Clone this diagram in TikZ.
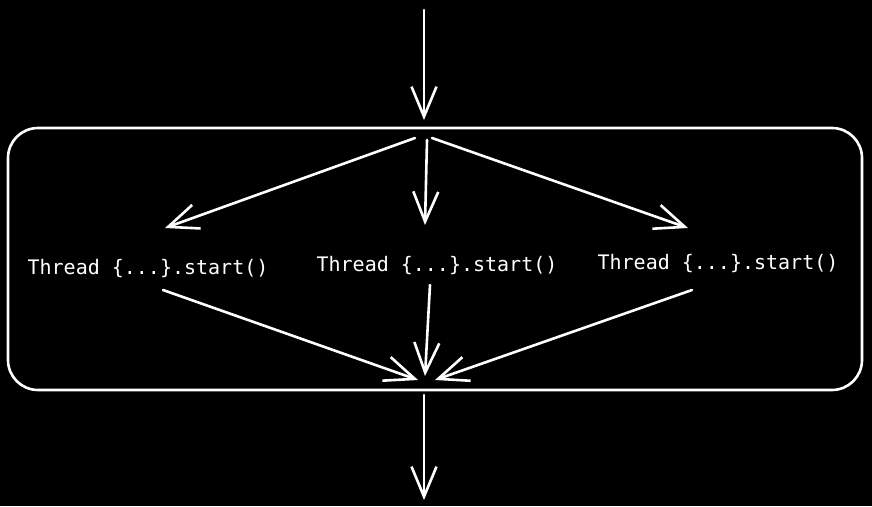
\documentclass[tikz,border=0pt]{standalone}
\usepackage{fontspec}
\setmainfont{DejaVu Sans Mono}
\usetikzlibrary{arrows.meta}
\begin{document}
\begin{tikzpicture}[x=1pt,y=-1pt,
  line width=2.6pt, draw=white, line cap=round, line join=round,
  flow/.style={draw=white, -{Straight Barb[length=30pt,width=25pt,line width=2.6pt]}},
  label/.style={text=white, font=\fontsize{20}{24}\selectfont, inner sep=0pt, anchor=base},
  frame/.style={draw=white, rounded corners=30pt, line width=2.6pt}]
  % canvas
  \fill[black] (0,0) rectangle (872,506);
  \useasboundingbox (0,0) rectangle (872,506);

  % enclosing block
  \draw[frame] (8,128) rectangle (862,390);

  % text nodes
  \node[label] (t1) at (148,274) {Thread \{...\}.start()};
  \node[label] (t2) at (437,271) {Thread \{...\}.start()};
  \node[label] (t3) at (718,269) {Thread \{...\}.start()};

  % arrow end points
  \coordinate (inTop) at (424,10);
  \coordinate (inEnd) at (424,120);
  \coordinate (forkL) at (415,138);
  \coordinate (forkC) at (427,140);
  \coordinate (forkR) at (432,138);
  \coordinate (joinL) at (418,380);
  \coordinate (joinC) at (425,376);
  \coordinate (joinR) at (435,380);
  \coordinate (outTop) at (424,395);
  \coordinate (outEnd) at (424,500);

  % incoming and outgoing flow
  \draw[flow] (inTop) -- (inEnd);
  \draw[flow] (outTop) -- (outEnd);

  % fan out
  \draw[flow] (forkL) -- ([xshift=17pt,yshift=46pt]t1.base);
  \draw[flow] (forkC) -- ([xshift=-12pt,yshift=46pt]t2.base);
  \draw[flow] (forkR) -- ([xshift=-30pt,yshift=41pt]t3.base);

  % fan in
  \draw[flow] ([xshift=15pt,yshift=-16pt]t1.base) -- (joinL);
  \draw[flow] ([xshift=-7pt,yshift=-14pt]t2.base) -- (joinC);
  \draw[flow] ([xshift=-26pt,yshift=-21pt]t3.base) -- (joinR);
\end{tikzpicture}
\end{document}
